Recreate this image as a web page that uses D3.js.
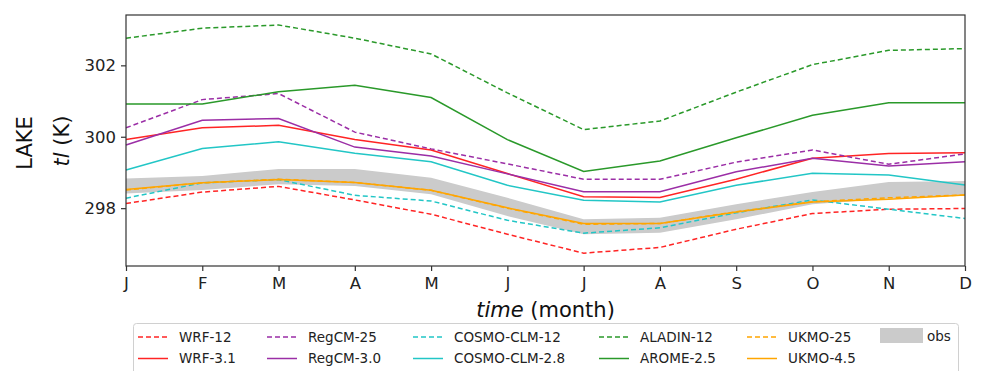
<!DOCTYPE html>
<html>
<head>
<meta charset="utf-8">
<script src="https://cdn.jsdelivr.net/npm/d3@7"></script>
<style>
  body { margin: 0; background: #fff; }
  svg { font-family: "DejaVu Sans", sans-serif; }
</style>
</head>
<body>
<svg width="981" height="371"></svg>
<script>
// data
const months = ['J', 'F', 'M', 'A', 'M', 'J', 'J', 'A', 'S', 'O', 'N', 'D']
const yTicks = [298, 300, 302]

const wrf12 = [298.13, 298.45, 298.61, 298.23, 297.83, 297.27, 296.74, 296.90, 297.41, 297.85, 297.97, 297.99]
const wrf31 = [299.92, 300.25, 300.32, 299.92, 299.63, 298.97, 298.32, 298.30, 298.81, 299.40, 299.53, 299.55]
const regcm25 = [300.25, 301.04, 301.21, 300.13, 299.66, 299.24, 298.81, 298.81, 299.29, 299.63, 299.23, 299.52]
const regcm30 = [299.77, 300.46, 300.51, 299.71, 299.46, 298.96, 298.46, 298.46, 299.02, 299.40, 299.18, 299.30]
const cosmo12 = [298.28, 298.71, 298.80, 298.36, 298.20, 297.66, 297.30, 297.45, 297.87, 298.23, 297.97, 297.71]
const cosmo28 = [299.07, 299.67, 299.86, 299.54, 299.30, 298.64, 298.22, 298.17, 298.64, 298.98, 298.93, 298.65]
const aladin12 = [302.76, 303.04, 303.13, 302.76, 302.32, 301.23, 300.20, 300.44, 301.25, 302.02, 302.42, 302.47]
const arome25 = [300.92, 300.92, 301.26, 301.44, 301.10, 299.92, 299.03, 299.32, 299.97, 300.60, 300.95, 300.95]
const ukmo25 = [298.51, 298.71, 298.81, 298.72, 298.50, 298.00, 297.55, 297.57, 297.90, 298.18, 298.29, 298.37]
const ukmo45 = [298.52, 298.71, 298.80, 298.72, 298.50, 298.01, 297.57, 297.57, 297.89, 298.17, 298.25, 298.37]
const obsLow = [298.41, 298.51, 298.67, 298.62, 298.39, 297.78, 297.27, 297.31, 297.69, 298.11, 298.27, 298.36]
const obsHigh = [298.83, 298.90, 299.10, 299.10, 298.85, 298.29, 297.69, 297.73, 298.11, 298.45, 298.73, 298.76]

const series = [
    { name: 'WRF-12', values: wrf12, color: '#ff2424', dashed: true },
    { name: 'WRF-3.1', values: wrf31, color: '#ff2424', dashed: false },
    { name: 'RegCM-25', values: regcm25, color: '#9b2ea6', dashed: true },
    { name: 'RegCM-3.0', values: regcm30, color: '#9b2ea6', dashed: false },
    { name: 'COSMO-CLM-12', values: cosmo12, color: '#22c6c6', dashed: true },
    { name: 'COSMO-CLM-2.8', values: cosmo28, color: '#22c6c6', dashed: false },
    { name: 'ALADIN-12', values: aladin12, color: '#2a992a', dashed: true },
    { name: 'AROME-2.5', values: arome25, color: '#2a992a', dashed: false },
    { name: 'UKMO-25', values: ukmo25, color: '#ffa500', dashed: true },
    { name: 'UKMO-4.5', values: ukmo45, color: '#ffa500', dashed: false }
]

const svg = d3.select('svg')
const plotL = 126, plotR = 965, plotT = 15, plotB = 266

const x = d3.scaleLinear().domain([0, 11]).range([plotL, plotR])
const y = d3.scaleLinear().domain([296.38, 303.41]).range([plotB, plotT])

// obs band
const area = d3.area()
    .x((d, i) => x(i))
    .y0((d, i) => y(obsLow[i]))
    .y1((d, i) => y(obsHigh[i]))
svg.append('path')
    .attr('d', area(obsLow))
    .style('fill', '#cbcbcb')
    .style('stroke', 'none')

const line = d3.line()
    .x((d, i) => x(i))
    .y(d => y(d))

for (const s of series) {
    svg.append('path')
        .attr('d', line(s.values))
        .style('fill', 'none')
        .style('stroke', s.color)
        .style('stroke-width', 1.5)
        .style('stroke-dasharray', s.dashed ? '5,3' : null)
}

// frame
svg.append('rect')
    .attr('x', plotL)
    .attr('y', plotT)
    .attr('width', plotR - plotL)
    .attr('height', plotB - plotT)
    .style('fill', 'none')
    .style('stroke', '#333')
    .style('stroke-width', 1.2)

const xAxis = svg.append('g')
    .attr('transform', `translate(0,${plotB})`)
    .call(d3.axisBottom(x).tickValues(d3.range(12)).tickFormat(i => months[i]).tickSize(5).tickPadding(6))
const yAxis = svg.append('g')
    .attr('transform', `translate(${plotL},0)`)
    .call(d3.axisLeft(y).tickValues(yTicks).tickFormat(d3.format('d')).tickSize(5).tickPadding(5))

for (const ax of [xAxis, yAxis]) {
    ax.select('.domain').remove()
    ax.selectAll('line').style('stroke', '#333').style('stroke-width', 1.2)
    ax.selectAll('text')
        .style('font-family', '"DejaVu Sans", sans-serif')
        .style('font-size', '16.5px')
        .style('fill', '#222')
}

// axis labels
const xl = svg.append('text')
    .attr('x', (plotL + plotR) / 2)
    .attr('y', 317)
    .attr('text-anchor', 'middle')
    .style('font-size', '21px')
    .style('fill', '#111')
xl.append('tspan').style('font-style', 'italic').text('time')
xl.append('tspan').text(' (month)')

svg.append('text')
    .attr('transform', 'translate(32,143) rotate(-90)')
    .attr('text-anchor', 'middle')
    .style('font-size', '21px')
    .style('fill', '#111')
    .text('LAKE')
const yl = svg.append('text')
    .attr('transform', 'translate(69,141) rotate(-90)')
    .attr('text-anchor', 'middle')
    .style('font-size', '21px')
    .style('fill', '#111')
yl.append('tspan').style('font-style', 'italic').text('tl')
yl.append('tspan').text(' (K)')

// legend
const legend = svg.append('g')
legend.append('rect')
    .attr('x', 133.5)
    .attr('y', 323.5)
    .attr('width', 825)
    .attr('height', 60)
    .attr('rx', 3)
    .style('fill', '#fff')
    .style('stroke', '#d0d0d0')
    .style('stroke-width', 1)

const colX = [138, 267, 413, 599, 747]
const rowY = [337, 358.5]
series.forEach((s, i) => {
    const cx = colX[Math.floor(i / 2)], cy = rowY[i % 2]
    legend.append('line')
        .attr('x1', cx).attr('x2', cx + 30)
        .attr('y1', cy).attr('y2', cy)
        .style('stroke', s.color)
        .style('stroke-width', 1.5)
        .style('stroke-dasharray', s.dashed ? '5,3' : null)
    legend.append('text')
        .attr('x', cx + 41)
        .attr('y', cy)
        .attr('dy', '0.36em')
        .style('font-size', '13.5px')
        .style('fill', '#222')
        .text(s.name)
})
legend.append('rect')
    .attr('x', 880).attr('y', 328)
    .attr('width', 43).attr('height', 15)
    .style('fill', '#cbcbcb')
legend.append('text')
    .attr('x', 927).attr('y', 336)
    .attr('dy', '0.36em')
    .style('font-size', '13.5px')
    .style('fill', '#222')
    .text('obs')
</script>
</body>
</html>
